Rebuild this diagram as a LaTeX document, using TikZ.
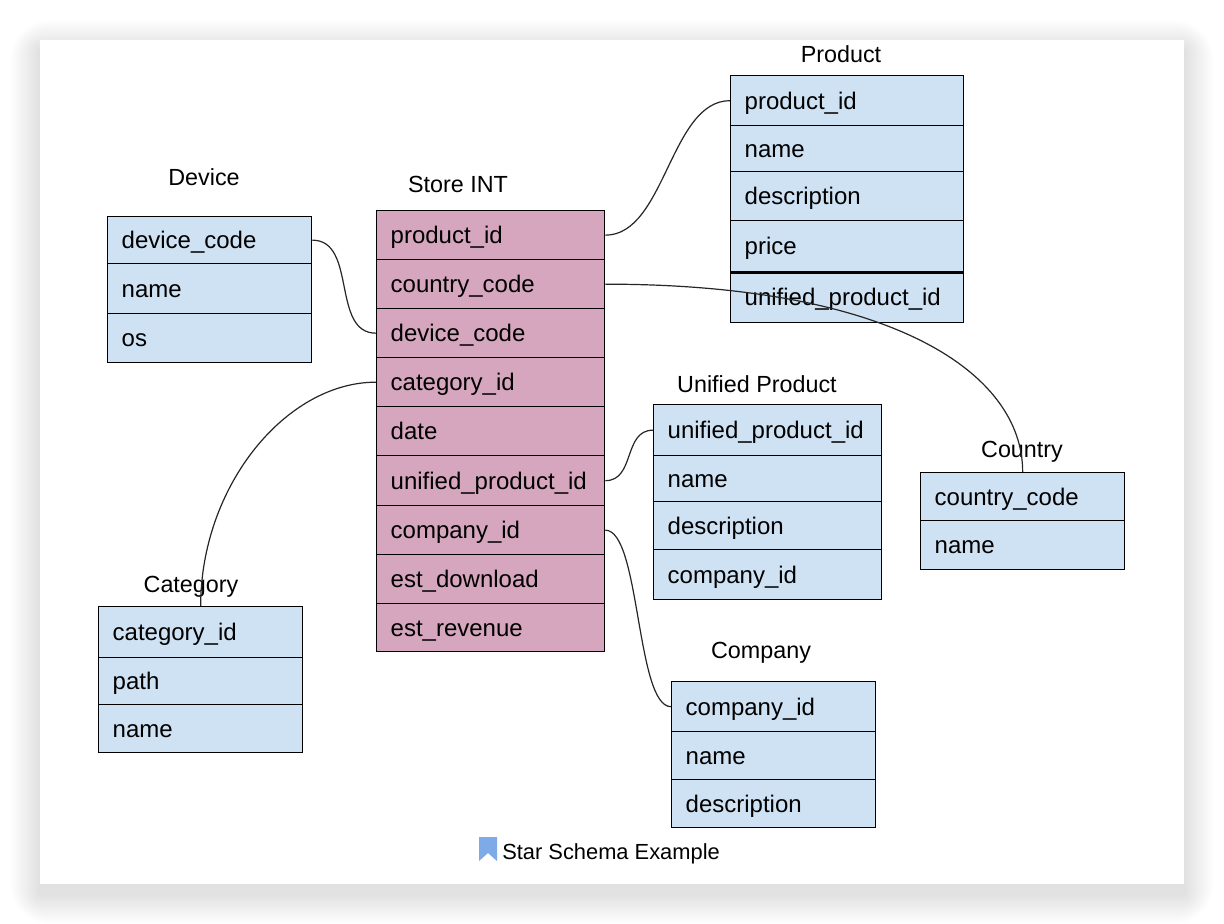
\documentclass[tikz,border=0pt]{standalone}
\usepackage{fontspec}
\setmainfont{Liberation Sans}
\definecolor{bluef}{HTML}{CFE2F3}
\definecolor{pinkf}{HTML}{D5A6BD}
\definecolor{iconb}{RGB}{126,170,232}
\newcommand\rowbox[7]{%
 \pgfmathsetmacro\rbw{(#4-28)*0.75}%
 \pgfmathsetmacro\rbh{#5*0.75}%
 \node[#6, text width=\rbw pt, minimum height=\rbh pt, anchor=north west] (#1) at (#2,#3) {#7};}
\begin{document}
\begin{tikzpicture}[x=0.75pt,y=-0.75pt,
 fld/.style={draw=black, line width=1pt, inner xsep=10.5pt, inner ysep=0pt, align=left, text height=14.5pt, text depth=2pt, font=\fontsize{18}{21}\selectfont},
 bfld/.style={fld, fill=bluef},
 pfld/.style={fld, fill=pinkf},
 ttl/.style={font=\fontsize{17.5}{21}\selectfont, anchor=base, inner sep=0pt},
 conn/.style={draw=black!85, line width=0.9pt}]
\useasboundingbox (0,0) rectangle (1224,924);
\fill[white] (0,0) rectangle (1224,924);
\foreach \i in {1,...,30}{\fill[black,opacity=0.002,rounded corners=\i pt] (40-\i,50-\i) rectangle (1184+\i,894+\i);}
\fill[white] (40,40) rectangle (1184,884);

% Store INT
\node[ttl] (tS) at (458,192.5) {Store INT};
\rowbox{s1}{376}{210}{228}{49}{pfld}{product\_id}
\rowbox{s2}{376}{259}{228}{49}{pfld}{country\_code}
\rowbox{s3}{376}{308}{228}{49}{pfld}{device\_code}
\rowbox{s4}{376}{357}{228}{49}{pfld}{category\_id}
\rowbox{s5}{376}{406}{228}{49}{pfld}{date}
\rowbox{s6}{376}{455}{228}{50}{pfld}{unified\_product\_id}
\rowbox{s7}{376}{505}{228}{49}{pfld}{company\_id}
\rowbox{s8}{376}{554}{228}{49}{pfld}{est\_download}
\rowbox{s9}{376}{603}{228}{48}{pfld}{est\_revenue}

% Device
\node[ttl] (tD) at (204,185.5) {Device};
\rowbox{d1}{107}{216}{204}{47}{bfld}{device\_code}
\rowbox{d2}{107}{263}{204}{50}{bfld}{name}
\rowbox{d3}{107}{313}{204}{49}{bfld}{os}

% Category
\node[ttl] (tC) at (191,592) {Category};
\rowbox{g1}{98}{606}{204}{51}{bfld}{category\_id}
\rowbox{g2}{98}{657}{204}{47}{bfld}{path}
\rowbox{g3}{98}{704}{204}{48}{bfld}{name}

% Product
\node[ttl] (tP) at (841,62.5) {Product};
\rowbox{p1}{730}{75}{233}{50}{bfld}{product\_id}
\rowbox{p2}{730}{125}{233}{46}{bfld}{name}
\rowbox{p3}{730}{171}{233}{49}{bfld}{description}
\rowbox{p4}{730}{220}{233}{51}{bfld}{price}
\rowbox{p5}{730}{271}{233}{51}{bfld}{unified\_product\_id}
\draw[line width=2pt] (p4.south west) -- (p4.south east);

% Unified Product
\node[ttl] (tU) at (757,392.5) {Unified Product};
\rowbox{u1}{653}{404}{228}{51}{bfld}{unified\_product\_id}
\rowbox{u2}{653}{455}{228}{46}{bfld}{name}
\rowbox{u3}{653}{501}{228}{48}{bfld}{description}
\rowbox{u4}{653}{549}{228}{50}{bfld}{company\_id}

% Country
\node[ttl] (tK) at (1022,457) {Country};
\rowbox{k1}{920}{472}{204}{48}{bfld}{country\_code}
\rowbox{k2}{920}{520}{204}{49}{bfld}{name}

% Company
\node[ttl] (tM) at (761,658.5) {Company};
\rowbox{m1}{671}{681}{204}{50}{bfld}{company\_id}
\rowbox{m2}{671}{731}{204}{48}{bfld}{name}
\rowbox{m3}{671}{779}{204}{48}{bfld}{description}

% connectors
\draw[conn] (s1.east) .. controls +(60,0) and +(-60,0) .. (p1.west);
\draw[conn] (s2.east) .. controls +(285,0) and +(0,-100) .. (k1.north);
\draw[conn] (d1.east) .. controls +(45,0) and +(-45,0) .. (s3.west);
\draw[conn] (s4.west) .. controls +(-90,0) and +(0,-120) .. (g1.north);
\draw[conn] (s6.east) .. controls +(30,0) and +(-30,0) .. (u1.west);
\draw[conn] (s7.east) .. controls +(35,0) and +(-35,0) .. (m1.west);

% caption
\fill[iconb] (479,837) -- (497,837) -- (497,861) -- (488,853) -- (479,861) -- cycle;
\node[font=\fontsize{16.4}{19}\selectfont, anchor=base west, inner sep=0pt] (cap) at (502,859) {Star Schema Example};
\end{tikzpicture}
\end{document}
